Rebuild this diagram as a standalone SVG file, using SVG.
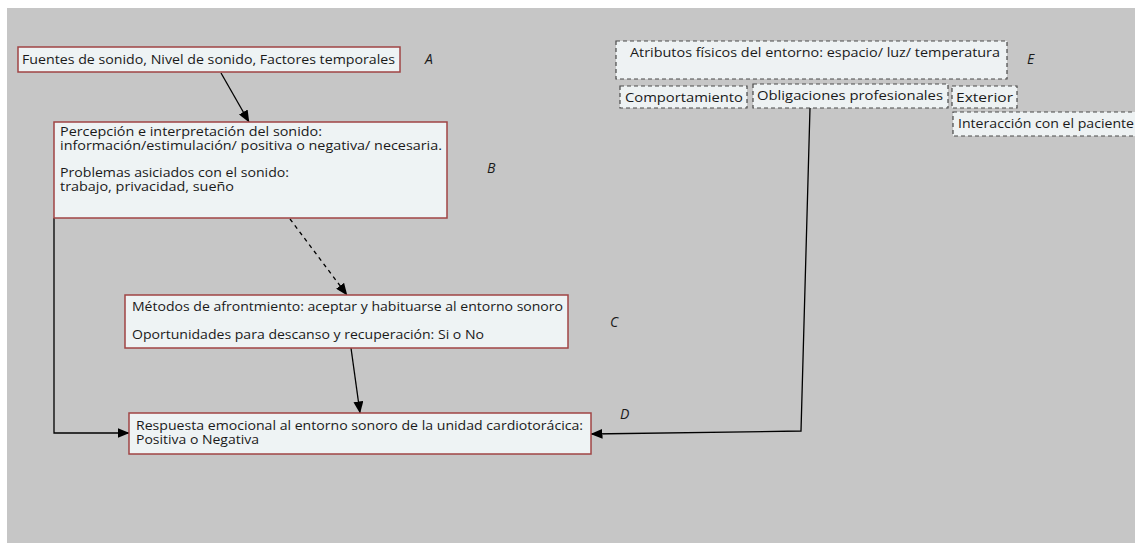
<svg xmlns="http://www.w3.org/2000/svg" width="1135" height="543" viewBox="0 0 1135 543">
  <defs>
    <marker id="arrow" viewBox="0 0 12 10" refX="11.5" refY="5" markerWidth="12" markerHeight="10" markerUnits="userSpaceOnUse" orient="auto">
      <path d="M0,0 L12,5 L0,10 Z" fill="#000"/>
    </marker>
    <style>
      .box { fill: #eef3f4; stroke: #a04444; stroke-width: 1.5; }
      .dbox { fill: #eef2f3; stroke: #4a4a4a; stroke-width: 1.2; stroke-dasharray: 4 3; }
      .t { font-family: "Open Sans", "Noto Sans", sans-serif; font-size: 13.5px; fill: #1a1a1a; }
      .lbl { font-family: "Open Sans", "Noto Sans", sans-serif; font-size: 14px; font-style: italic; fill: #1a1a1a; }
      .conn { fill: none; stroke: #000; stroke-width: 1.3; }
      .dash { stroke-dasharray: 4 4; }
    </style>
  </defs>

  <!-- page background -->
  <rect x="0" y="0" width="1135" height="543" fill="#ffffff"/>
  <rect x="7" y="8" width="1128" height="535" fill="#c6c6c6"/>

  <!-- connectors -->
  <g id="connectors">
    <path class="conn" d="M221,73 L249,122" marker-end="url(#arrow)"/>
    <path class="conn dash" d="M290,219 L347,295" marker-end="url(#arrow)"/>
    <path class="conn" d="M351,348 L360,413" marker-end="url(#arrow)"/>
    <path class="conn" d="M54,218 L54,433 L129,433" marker-end="url(#arrow)"/>
    <path class="conn" d="M810,108 L801,431 L591,434" marker-end="url(#arrow)"/>
  </g>

  <!-- A: sound sources -->
  <g id="node-a">
    <rect class="box" x="18" y="47" width="382" height="25"/>
    <text class="t" x="22" y="64" textLength="373" lengthAdjust="spacingAndGlyphs">Fuentes de sonido, Nivel de sonido, Factores temporales</text>
    <text class="lbl" x="425" y="64">A</text>
  </g>

  <!-- B: perception -->
  <g id="node-b">
    <rect class="box" x="54" y="122" width="393" height="96"/>
    <text class="t" x="60" y="136" textLength="262" lengthAdjust="spacingAndGlyphs">Percepción e interpretación del sonido:</text>
    <text class="t" x="60" y="150" textLength="382" lengthAdjust="spacingAndGlyphs">información/estimulación/ positiva o negativa/ necesaria.</text>
    <text class="t" x="60" y="177" textLength="229" lengthAdjust="spacingAndGlyphs">Problemas asiciados con el sonido:</text>
    <text class="t" x="60" y="191" textLength="174" lengthAdjust="spacingAndGlyphs">trabajo, privacidad, sueño</text>
    <text class="lbl" x="487" y="173">B</text>
  </g>

  <!-- C: coping -->
  <g id="node-c">
    <rect class="box" x="125" y="295" width="443" height="53"/>
    <text class="t" x="132" y="311" textLength="431" lengthAdjust="spacingAndGlyphs">Métodos de afrontmiento: aceptar y habituarse al entorno sonoro</text>
    <text class="t" x="132" y="339" textLength="352" lengthAdjust="spacingAndGlyphs">Oportunidades para descanso y recuperación: Si o No</text>
    <text class="lbl" x="610" y="327">C</text>
  </g>

  <!-- D: emotional response -->
  <g id="node-d">
    <rect class="box" x="129" y="413" width="462" height="41"/>
    <text class="t" x="136" y="430" textLength="447" lengthAdjust="spacingAndGlyphs">Respuesta emocional al entorno sonoro de la unidad cardiotorácica:</text>
    <text class="t" x="136" y="444" textLength="123" lengthAdjust="spacingAndGlyphs">Positiva o Negativa</text>
    <text class="lbl" x="620" y="419">D</text>
  </g>

  <!-- E: physical environment -->
  <g id="node-e">
    <rect class="dbox" x="616" y="41" width="391" height="38"/>
    <text class="t" x="630" y="57" textLength="370" lengthAdjust="spacingAndGlyphs">Atributos físicos del entorno: espacio/ luz/ temperatura</text>
    <text class="lbl" x="1027" y="64">E</text>
  </g>

  <g id="node-comportamiento">
    <rect class="dbox" x="620" y="86" width="127" height="22"/>
    <text class="t" x="625" y="102" textLength="118" lengthAdjust="spacingAndGlyphs">Comportamiento</text>
  </g>

  <g id="node-obligaciones">
    <rect class="dbox" x="753" y="84" width="195" height="24"/>
    <text class="t" x="757" y="100" textLength="186" lengthAdjust="spacingAndGlyphs">Obligaciones profesionales</text>
  </g>

  <g id="node-exterior">
    <rect class="dbox" x="952" y="86" width="65" height="22"/>
    <text class="t" x="956" y="102" textLength="57" lengthAdjust="spacingAndGlyphs">Exterior</text>
  </g>

  <g id="node-interaccion">
    <rect class="dbox" x="953" y="112" width="190" height="24"/>
    <text class="t" x="958" y="128" textLength="176" lengthAdjust="spacingAndGlyphs">Interacción con el paciente</text>
  </g>
</svg>
